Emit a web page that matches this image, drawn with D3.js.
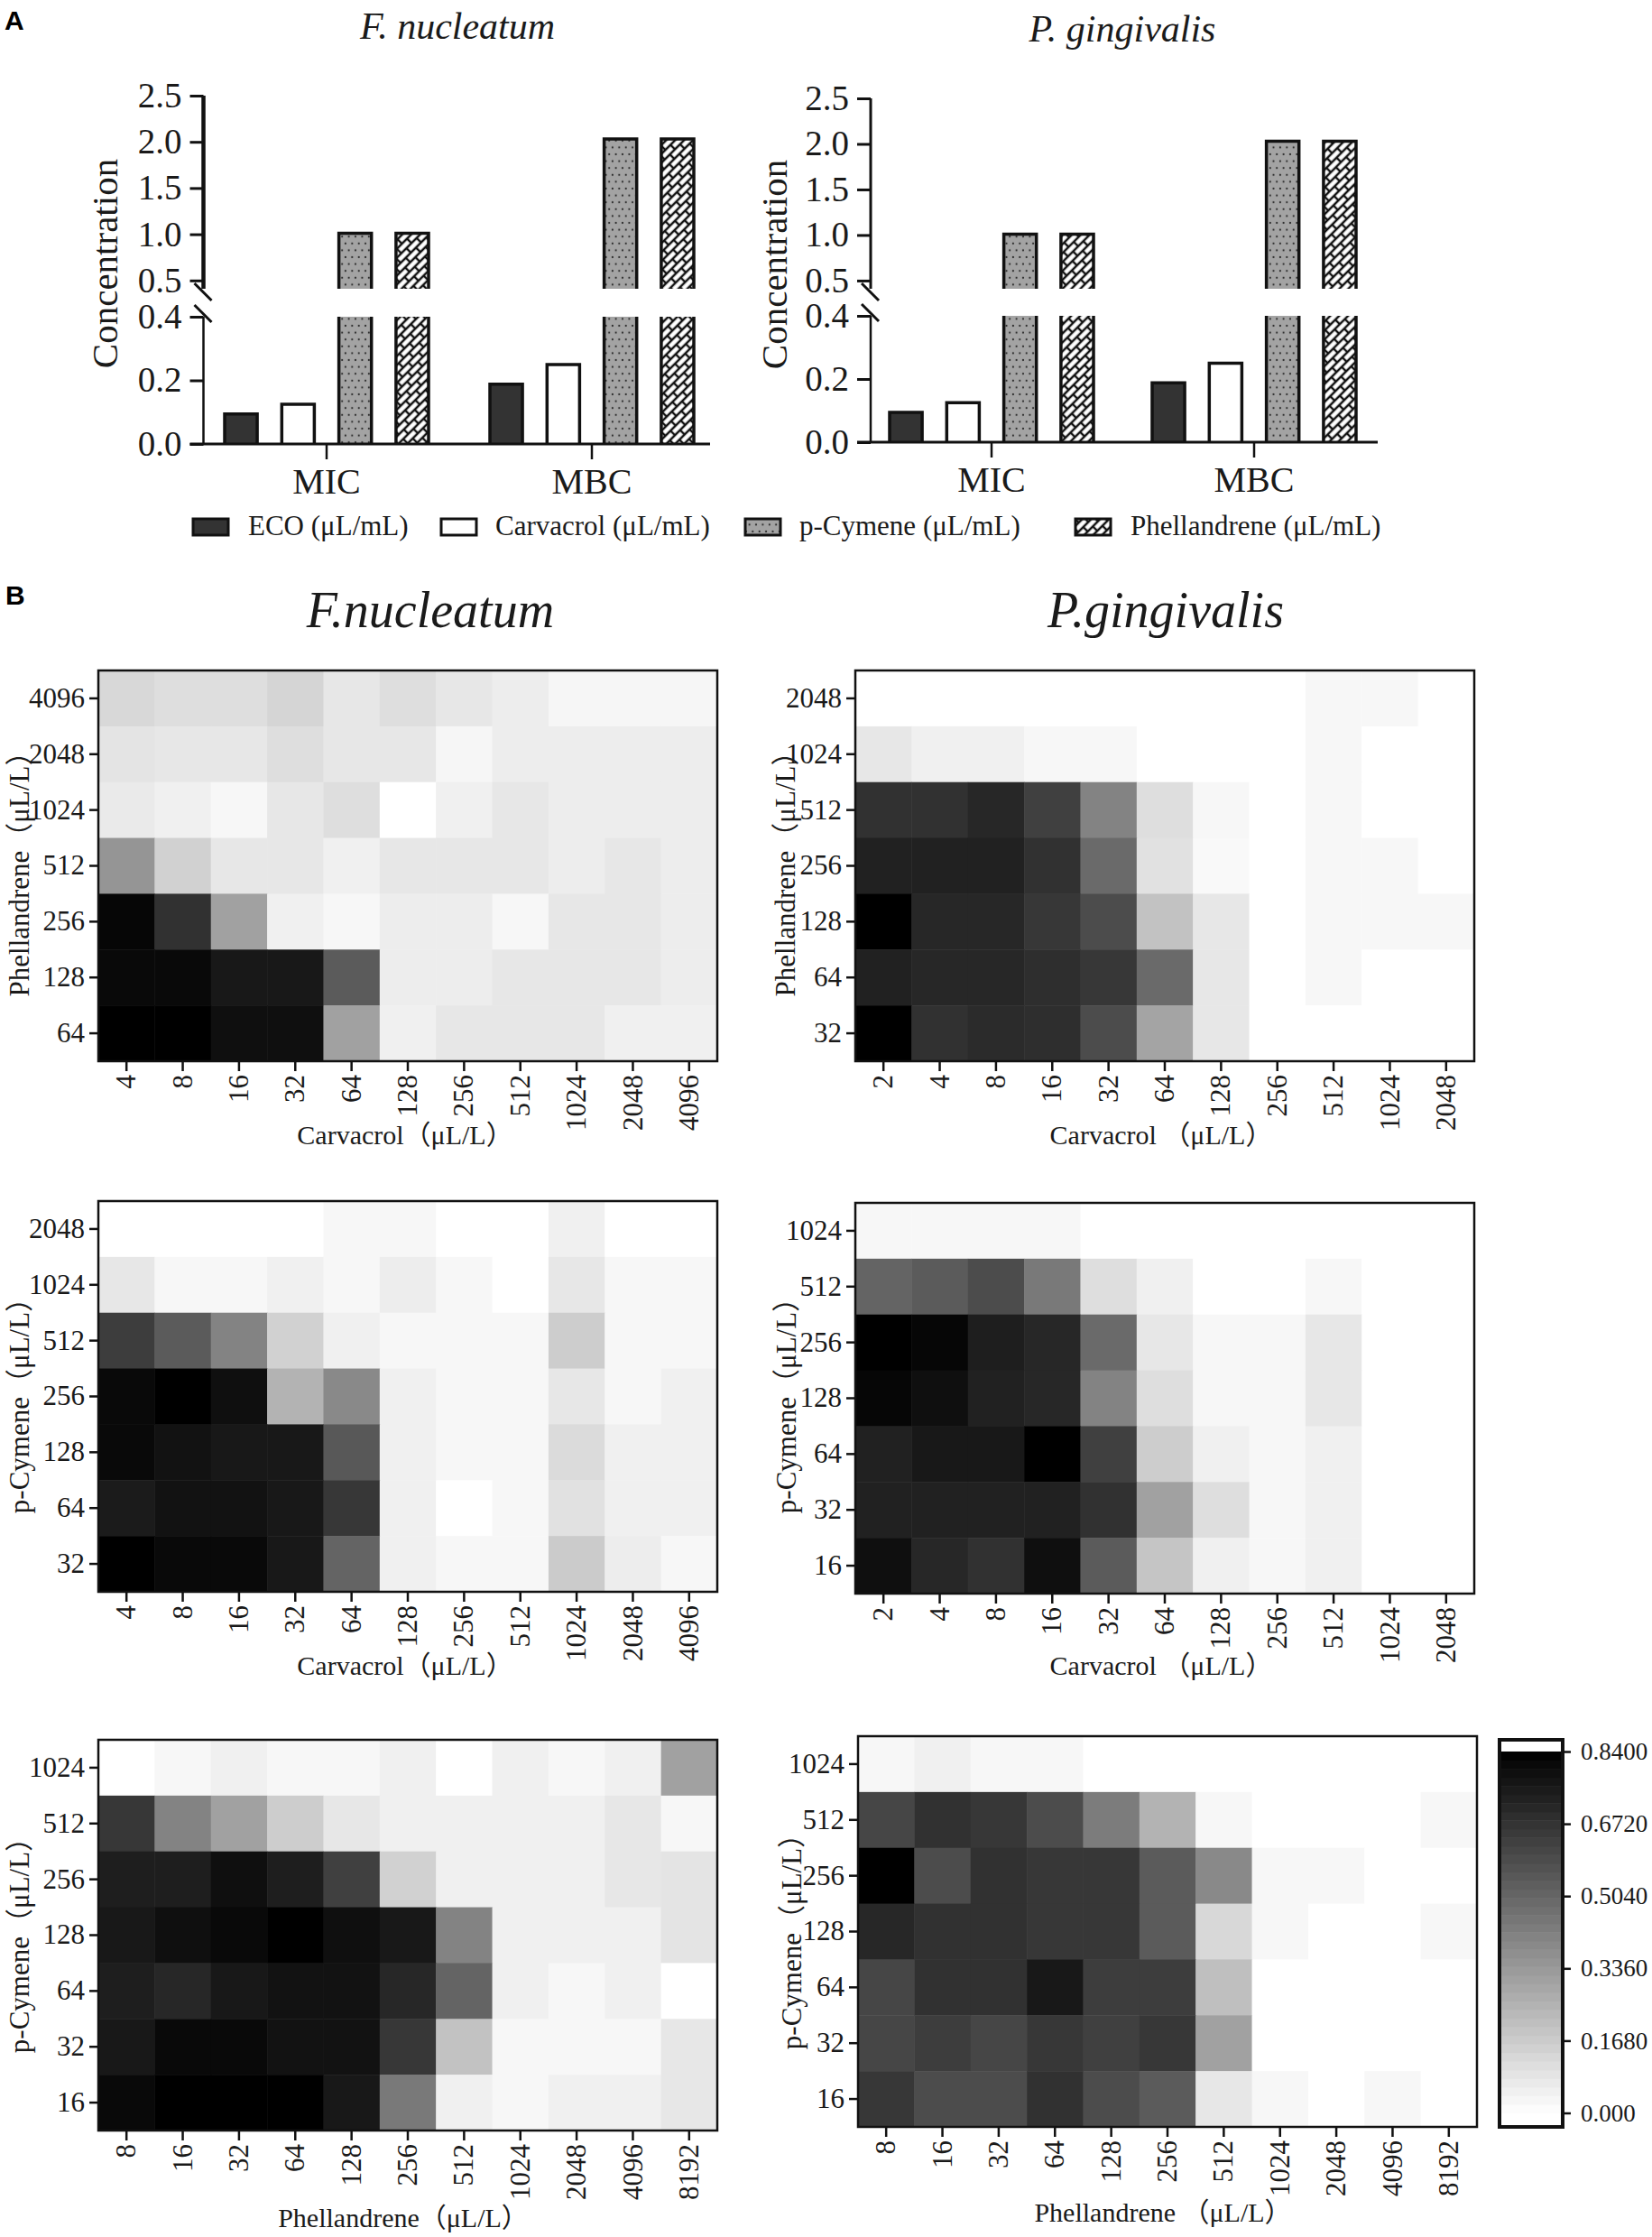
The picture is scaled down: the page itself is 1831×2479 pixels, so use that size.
<!DOCTYPE html>
<html lang="en">
<head>
<meta charset="UTF-8">
<title>Checkerboard MIC / MBC figure</title>
<script src="https://d3js.org/d3.v7.min.js"></script>
<style>
  body { margin: 0; background: #fff; }
  text { font-family: "Liberation Serif", "Noto Sans CJK SC", serif; fill: #1a1a1a; }
  .panel { font-family: "Liberation Sans", sans-serif; font-weight: bold; font-size: 30px; fill: #000; }
  .domain, .tick line { stroke: #111; }
</style>
</head>
<body>
<div id="fig"></div>
<script>
// panel A
const groups = ["MIC", "MBC"];
const agents = ["ECO", "Carvacrol", "p-Cymene", "Phellandrene"];
const micValues = [0.094, 0.125, 1.01, 1.01];
const mbcValues = [0.188, 0.25, 2.03, 2.03];
const upperTicks = [0.5, 1, 1.5, 2, 2.5];
const lowerTicks = [0, 0.2, 0.4];
const legendLabels = ["ECO (μL/mL)", "Carvacrol (μL/mL)", "p-Cymene (μL/mL)", "Phellandrene (μL/mL)"];

// panel B tick labels
const conc2to2048 = ["2", "4", "8", "16", "32", "64", "128", "256", "512", "1024", "2048"];
const conc4to4096 = ["4", "8", "16", "32", "64", "128", "256", "512", "1024", "2048", "4096"];
const conc8to8192 = ["8", "16", "32", "64", "128", "256", "512", "1024", "2048", "4096", "8192"];
const phell64to4096 = ["4096", "2048", "1024", "512", "256", "128", "64"];
const phell32to2048 = ["2048", "1024", "512", "256", "128", "64", "32"];
const cym32to2048 = ["2048", "1024", "512", "256", "128", "64", "32"];
const cym16to1024 = ["1024", "512", "256", "128", "64", "32", "16"];

// panel B values, rows top to bottom
const fnCarPhe = [
  [.13,.11,.11,.14,.08,.11,.08,.06,.03,.03,.03],
  [.09,.08,.08,.11,.08,.08,.03,.06,.06,.06,.06],
  [.07,.05,.025,.08,.11,0,.05,.08,.06,.06,.06],
  [.35,.15,.08,.08,.05,.08,.08,.08,.06,.08,.06],
  [.82,.68,.31,.05,.025,.06,.06,.025,.08,.08,.06],
  [.81,.81,.76,.76,.54,.06,.06,.08,.08,.08,.06],
  [.84,.84,.79,.79,.31,.05,.08,.08,.08,.05,.05]
];
const pgCarPhe = [
  [0,0,0,0,0,0,0,0,.025,.025,0],
  [.08,.05,.05,.025,.025,0,0,0,.025,0,0],
  [.68,.68,.71,.63,.41,.11,.025,0,.025,0,0],
  [.73,.73,.73,.68,.49,.10,.02,0,.025,.025,0],
  [.84,.71,.71,.66,.59,.20,.08,0,.025,.025,.025],
  [.73,.71,.71,.69,.66,.49,.08,0,.025,0,0],
  [.84,.68,.70,.69,.59,.30,.08,0,0,0,0]
];
const fnCarCym = [
  [0,0,0,0,.025,.025,0,0,.05,0,0],
  [.08,.025,.025,.05,.025,.06,.025,0,.08,.025,.025],
  [.64,.54,.41,.15,.05,.025,.025,.025,.165,.025,.025],
  [.81,.84,.79,.25,.39,.05,.025,.025,.08,.025,.05],
  [.81,.78,.76,.76,.55,.05,.025,.025,.12,.05,.05],
  [.75,.78,.78,.76,.66,.05,0,.025,.10,.05,.05],
  [.84,.81,.81,.76,.51,.05,.025,.025,.17,.06,.025]
];
const pgCarCym = [
  [.025,.025,.025,.025,0,0,0,0,0,0,0],
  [.51,.54,.59,.44,.11,.05,0,0,.025,0,0],
  [.84,.82,.74,.71,.49,.08,.025,.025,.08,0,0],
  [.82,.79,.73,.71,.41,.11,.025,.025,.08,0,0],
  [.73,.76,.76,.84,.63,.165,.05,.025,.05,0,0],
  [.73,.73,.73,.73,.68,.31,.11,.025,.05,0,0],
  [.79,.71,.68,.79,.54,.19,.05,.025,.05,0,0]
];
const fnPheCym = [
  [0,.025,.05,.025,.025,.05,0,.05,.025,.05,.31],
  [.66,.41,.31,.165,.08,.05,.05,.05,.05,.08,.025],
  [.74,.74,.79,.74,.63,.15,.05,.05,.05,.08,.09],
  [.76,.79,.81,.84,.79,.76,.41,.05,.05,.05,.09],
  [.74,.71,.76,.78,.78,.71,.51,.05,.025,.05,0],
  [.76,.81,.81,.78,.78,.66,.20,.025,.025,.025,.08],
  [.81,.84,.84,.84,.76,.44,.05,.025,.05,.05,.08]
];
const pgPheCym = [
  [.025,.05,.025,.025,0,0,0,0,0,0,0],
  [.61,.68,.66,.59,.43,.25,.025,0,0,0,.025],
  [.84,.59,.68,.66,.66,.54,.39,.025,.025,0,0],
  [.71,.68,.68,.66,.66,.54,.13,.025,0,0,.025],
  [.61,.68,.68,.76,.64,.64,.21,0,0,0,0],
  [.61,.64,.61,.66,.63,.66,.31,0,0,0,0],
  [.66,.59,.59,.68,.59,.54,.08,.025,0,.025,0]
];
const colorTicks = [0, 0.168, 0.336, 0.504, 0.672, 0.84];
const colorTickLabels = ["0.000", "0.1680", "0.3360", "0.5040", "0.6720", "0.8400"];

const svg = d3.select("#fig").append("svg")
  .attr("width", 1831).attr("height", 2479);

// bar fills
const defs = svg.append("defs");
const dots = defs.append("pattern").attr("id", "dots")
  .attr("patternUnits", "userSpaceOnUse").attr("width", 7.4).attr("height", 15.2);
dots.append("rect").attr("width", 7.4).attr("height", 15.2).attr("fill", "#a3a3a3");
dots.append("circle").attr("cx", 1.8).attr("cy", 3.8).attr("r", 1.1).attr("fill", "#2a2a2a");
dots.append("circle").attr("cx", 5.5).attr("cy", 11.4).attr("r", 1.1).attr("fill", "#2a2a2a");
const bricks = defs.append("pattern").attr("id", "bricks")
  .attr("patternUnits", "userSpaceOnUse").attr("width", 16).attr("height", 14)
  .attr("patternTransform", "rotate(-45)");
bricks.append("rect").attr("width", 16).attr("height", 14).attr("fill", "#fff");
bricks.append("path").attr("d", "M0 2H16 M0 9H16 M4 2V9 M12 9V16 M12 -5V2")
  .attr("stroke", "#111").attr("stroke-width", 2.4).attr("fill", "none");

const barFill = d3.scaleOrdinal().domain(agents).range(["#333333", "#ffffff", "url(#dots)", "url(#bricks)"]);

function barChart(o) {
  const g = svg.append("g");
  const x = d3.scaleBand().domain(groups).range([o.mic - o.step / 2, o.mic + o.step * 1.5]);
  const inner = d3.scaleBand().domain(agents).range([-113, 113]).paddingInner(0.43);
  const yUp = d3.scaleLinear().domain([0.41, 2.5]).range([o.breakTop, o.top]);
  const yLow = d3.scaleLinear().domain([0, 0.4]).range([o.base, o.breakBottom]);

  groups.forEach((grp, i) => {
    const vals = i === 0 ? micValues : mbcValues;
    agents.forEach((a, j) => {
      const v = vals[j];
      const bx = x(grp) + x.bandwidth() / 2 + inner(a);
      const bw = inner.bandwidth();
      const lowTop = v > 0.4 ? yLow(0.4) : yLow(v);
      g.append("rect").attr("x", bx).attr("y", lowTop).attr("width", bw)
        .attr("height", o.base - lowTop).attr("fill", barFill(a));
      g.append("path").attr("fill", "none").attr("stroke", "#111").attr("stroke-width", 3.5)
        .attr("d", v > 0.4
          ? `M${bx},${lowTop}V${o.base}M${bx + bw},${lowTop}V${o.base}`
          : `M${bx},${o.base}V${lowTop}H${bx + bw}V${o.base}`);
      if (v > 0.4) {
        g.append("rect").attr("x", bx).attr("y", yUp(v)).attr("width", bw)
          .attr("height", yUp(0.41) - yUp(v)).attr("fill", barFill(a));
        g.append("path").attr("fill", "none").attr("stroke", "#111").attr("stroke-width", 3.5)
          .attr("d", `M${bx},${yUp(0.41)}V${yUp(v)}H${bx + bw}V${yUp(0.41)}`);
      }
    });
  });

  // axes, the upper and lower segment each get their own
  const fmt = d3.format(".1f");
  [[yUp, upperTicks, o.upperW], [yLow, lowerTicks, 2.5]].forEach(([sc, tv, w]) => {
    const ax = g.append("g").attr("transform", `translate(${o.axisX},0)`)
      .call(d3.axisLeft(sc).tickValues(tv).tickFormat(fmt).tickSize(15).tickSizeOuter(0).tickPadding(9));
    ax.selectAll("text").attr("font-size", 39);
    ax.selectAll("line").attr("stroke-width", 3);
    ax.select(".domain").attr("stroke-width", w)
      .attr("d", `M0,${sc.range()[0]}V${sc.range()[1]}`);
  });
  // x axis
  const xa = g.append("g").attr("transform", `translate(0,${o.base})`)
    .call(d3.axisBottom(x).tickSize(17).tickSizeOuter(0).tickPadding(10));
  xa.select(".domain").attr("stroke-width", 3)
    .attr("d", `M${o.axisX - 15},0H${o.axisEnd}`);
  xa.selectAll("line").attr("stroke-width", 2.5);
  xa.selectAll("text").attr("font-size", 40);

  // axis break
  [o.breakTop - 6, o.breakBottom - 13].forEach(by => {
    g.append("line").attr("x1", o.axisX - 10).attr("x2", o.axisX + 9)
      .attr("y1", by).attr("y2", by + 19)
      .attr("stroke", "#111").attr("stroke-width", 3);
  });

  g.append("text").attr("transform", `translate(${o.labelX},${o.labelY}) rotate(-90)`)
    .attr("text-anchor", "middle").attr("font-size", 41).text("Concentration");
  g.append("text").attr("x", o.titleX).attr("y", o.titleY).attr("text-anchor", "middle")
    .attr("font-size", 42).attr("font-style", "italic").text(o.title);
}

barChart({ axisX: 225.5, axisEnd: 787, top: 106, base: 492, breakTop: 320, breakBottom: 351, mic: 362, step: 294,
  upperW: 4.5, labelX: 130, labelY: 292, title: "F. nucleatum", titleX: 507, titleY: 43 });
barChart({ axisX: 965, axisEnd: 1527, top: 109, base: 490, breakTop: 320, breakBottom: 350, mic: 1099, step: 291,
  upperW: 3, labelX: 872, labelY: 293, title: "P. gingivalis", titleX: 1244, titleY: 46 });

// legend
const legendSwatchX = [214, 489, 826, 1192];
const legendTextX = [275, 549, 886, 1253];
agents.forEach((a, i) => {
  svg.append("rect").attr("x", legendSwatchX[i]).attr("y", 575).attr("width", 39).attr("height", 18)
    .attr("fill", barFill(a)).attr("stroke", "#111").attr("stroke-width", 3);
  svg.append("text").attr("x", legendTextX[i]).attr("y", 593).attr("font-size", 31).text(legendLabels[i]);
});

svg.append("text").attr("class", "panel").attr("x", 5).attr("y", 33).text("A");
svg.append("text").attr("class", "panel").attr("x", 6).attr("y", 670).text("B");

// panel B heatmaps
const color = d3.scaleLinear().domain([0, 0.84]).range(["#ffffff", "#000000"]);

function heatmap(o) {
  const g = svg.append("g").attr("transform", `translate(${o.x},${o.y})`);
  const x = d3.scaleBand().domain(o.cols).range([0, o.w]);
  const y = d3.scaleBand().domain(o.rows).range([0, o.h]);
  o.data.forEach((row, r) => {
    g.selectAll(null).data(row).enter().append("rect")
      .attr("x", (d, c) => x(o.cols[c])).attr("y", y(o.rows[r]))
      .attr("width", x.bandwidth() + 0.5).attr("height", y.bandwidth() + 0.5)
      .attr("fill", d => color(d));
  });
  g.append("rect").attr("width", o.w).attr("height", o.h)
    .attr("fill", "none").attr("stroke", "#111").attr("stroke-width", 2.5);

  const ya = g.append("g").call(d3.axisLeft(y).tickSize(10).tickSizeOuter(0).tickPadding(5));
  ya.select(".domain").remove();
  ya.selectAll("line").attr("stroke-width", 2.5);
  ya.selectAll("text").attr("font-size", 31);

  const xa = g.append("g").attr("transform", `translate(0,${o.h})`)
    .call(d3.axisBottom(x).tickSize(11).tickSizeOuter(0));
  xa.select(".domain").remove();
  xa.selectAll("line").attr("stroke-width", 2.5);
  xa.selectAll("text").attr("font-size", 31).attr("text-anchor", "end")
    .attr("dy", null).attr("y", 0)
    .attr("transform", "translate(3,15) rotate(-90)")
    .attr("dominant-baseline", "middle");

  g.append("text").attr("x", o.xTitleX - o.x).attr("y", o.xTitleY - o.y).attr("text-anchor", "middle")
    .attr("font-size", 30).text(o.xTitle);
  g.append("text").attr("transform", `translate(${o.yTitleX - o.x},${o.yTitleY - o.y}) rotate(-90)`)
    .attr("text-anchor", "middle").attr("font-size", 31).text(o.yTitle);
}

const H = 433, W = 686;
heatmap({ x: 109, y: 743, w: W, h: H, cols: conc4to4096, rows: phell64to4096, data: fnCarPhe,
  xTitle: "Carvacrol（μL/L）", xTitleX: 449, xTitleY: 1268, yTitle: "Phellandrene（μL/L）", yTitleX: 32, yTitleY: 961 });
heatmap({ x: 948, y: 743, w: W, h: H, cols: conc2to2048, rows: phell32to2048, data: pgCarPhe,
  xTitle: "Carvacrol （μL/L）", xTitleX: 1287, xTitleY: 1268, yTitle: "Phellandrene（μL/L）", yTitleX: 881, yTitleY: 961 });
heatmap({ x: 109, y: 1331, w: W, h: H, cols: conc4to4096, rows: cym32to2048, data: fnCarCym,
  xTitle: "Carvacrol（μL/L）", xTitleX: 449, xTitleY: 1856, yTitle: "p-Cymene（μL/L）", yTitleX: 32, yTitleY: 1550 });
heatmap({ x: 948, y: 1333, w: W, h: H, cols: conc2to2048, rows: cym16to1024, data: pgCarCym,
  xTitle: "Carvacrol （μL/L）", xTitleX: 1287, xTitleY: 1856, yTitle: "p-Cymene（μL/L）", yTitleX: 882, yTitleY: 1550 });
heatmap({ x: 109, y: 1928, w: W, h: H, cols: conc8to8192, rows: cym16to1024, data: fnPheCym,
  xTitle: "Phellandrene（μL/L）", xTitleX: 447, xTitleY: 2468, yTitle: "p-Cymene（μL/L）", yTitleX: 32, yTitleY: 2148 });
heatmap({ x: 951, y: 1924, w: W, h: H, cols: conc8to8192, rows: cym16to1024, data: pgPheCym,
  xTitle: "Phellandrene （μL/L）", xTitleX: 1289, xTitleY: 2462, yTitle: "p-Cymene（μL/L）", yTitleX: 888, yTitleY: 2144 });

[["F.nucleatum", 477, 695], ["P.gingivalis", 1292, 695]].forEach(t => {
  svg.append("text").attr("x", t[1]).attr("y", t[2]).attr("text-anchor", "middle")
    .attr("font-size", 56).attr("font-style", "italic").text(t[0]);
});

// colour bar
const cb = svg.append("g");
const cbY = d3.scaleLinear().domain([0, 0.84]).range([2341.5, 1941]);
const cbLevels = d3.range(0, 42);
cb.selectAll(null).data(cbLevels).enter().append("rect")
  .attr("x", 1662).attr("width", 70)
  .attr("y", d => cbY((d + 1) * 0.02)).attr("height", d => cbY(d * 0.02) - cbY((d + 1) * 0.02) + 0.5)
  .attr("fill", d => color((d + 0.5) * 0.02));
cb.append("rect").attr("x", 1662).attr("y", 1928).attr("width", 70).attr("height", 429)
  .attr("fill", "none").attr("stroke", "#111").attr("stroke-width", 4);
const cbAxis = cb.append("g").attr("transform", "translate(1732,0)")
  .call(d3.axisRight(cbY).tickValues(colorTicks)
    .tickFormat((d, i) => colorTickLabels[i]).tickSize(9).tickSizeOuter(0).tickPadding(11));
cbAxis.select(".domain").remove();
cbAxis.selectAll("line").attr("stroke-width", 2.5);
cbAxis.selectAll("text").attr("font-size", 27);
</script>
</body>
</html>
